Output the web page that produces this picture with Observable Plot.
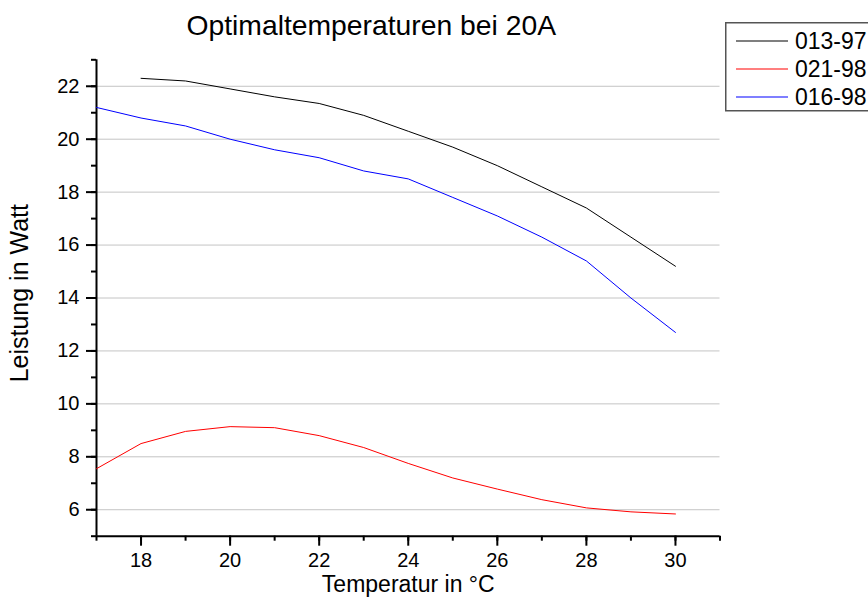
<!DOCTYPE html>
<html>
<head>
<meta charset="utf-8">
<script src="https://cdn.jsdelivr.net/npm/d3@7"></script>
<script src="https://cdn.jsdelivr.net/npm/@observablehq/plot@0.6"></script>
<style>
  html, body { margin: 0; padding: 0; background: #fff; }
  #chart { position: relative; width: 868px; height: 607px; overflow: hidden;
           font-family: "Liberation Sans", Arial, sans-serif; }
  #legend { position: absolute; left: 725px; top: 22px; }
</style>
</head>
<body>
<div id="chart"></div>
<script>
// Optimal temperatures at 20 A: power output (W) versus temperature (°C)
const title = "Optimaltemperaturen bei 20A";
const xLabel = "Temperatur in °C";
const yLabel = "Leistung in Watt";

const seriesNames = ["013-97", "021-98", "016-98"];
const seriesColors = ["#000000", "#ff0000", "#0000ff"];

const temps013 = [18, 19, 20, 21, 22, 23, 24, 25, 26, 27, 28, 29, 30];
const power013 = [22.3, 22.2, 21.9, 21.6, 21.35, 20.9, 20.3, 19.7, 19.0, 18.2, 17.4, 16.3, 15.2];

const temps021 = [17, 18, 19, 20, 21, 22, 23, 24, 25, 26, 27, 28, 29, 30];
const power021 = [7.55, 8.5, 8.96, 9.14, 9.1, 8.8, 8.35, 7.75, 7.2, 6.78, 6.38, 6.07, 5.92, 5.84];

const temps016 = [17, 18, 19, 20, 21, 22, 23, 24, 25, 26, 27, 28, 29, 30];
const power016 = [21.2, 20.8, 20.5, 20.0, 19.6, 19.3, 18.8, 18.5, 17.8, 17.1, 16.3, 15.4, 14.0, 12.7];

const xMajorTicks = [18, 20, 22, 24, 26, 28, 30];
const xMinorTicks = d3.range(17, 32);
const yMajorTicks = [6, 8, 10, 12, 14, 16, 18, 20, 22];
const yMinorTicks = d3.range(5, 24);

const series = [
  {name: seriesNames[0], color: seriesColors[0], pts: temps013.map((t, i) => ({t, p: power013[i]}))},
  {name: seriesNames[1], color: seriesColors[1], pts: temps021.map((t, i) => ({t, p: power021[i]}))},
  {name: seriesNames[2], color: seriesColors[2], pts: temps016.map((t, i) => ({t, p: power016[i]}))}
];

const font = "Liberation Sans, Arial, sans-serif";
const blank = () => "";

const plot = Plot.plot({
  width: 868,
  height: 607,
  marginLeft: 96,
  marginRight: 148.5,
  marginTop: 59.3,
  marginBottom: 71.3,
  style: {fontFamily: font, color: "#000", background: "#fff"},
  x: {domain: [17, 31]},
  y: {domain: [5, 23]},
  marks: [
    Plot.gridY(yMajorTicks, {stroke: "#c4c4c4", strokeOpacity: 1, strokeWidth: 1}),
    Plot.axisX(xMinorTicks, {tickSize: 5, tickFormat: blank, strokeWidth: 2, label: null}),
    Plot.axisX(xMajorTicks, {tickSize: 10, tickPadding: 7, fontSize: 20, strokeWidth: 2, label: null}),
    Plot.axisY(yMinorTicks, {tickSize: 5, tickFormat: blank, strokeWidth: 2, label: null}),
    Plot.axisY(yMajorTicks, {tickSize: 10, tickPadding: 7, fontSize: 20, strokeWidth: 2, label: null}),
    Plot.ruleX([17], {strokeWidth: 2}),
    Plot.ruleY([5], {strokeWidth: 2}),
    ...series.map(s => Plot.line(s.pts, {x: "t", y: "p", stroke: s.color, strokeWidth: 1})),
    Plot.text([title], {frameAnchor: "top", dx: -37, dy: -44.8, fontSize: 28.3, fill: "#000"}),
    Plot.text([xLabel], {frameAnchor: "bottom", dy: 56.2, fontSize: 23, fill: "#000"}),
    Plot.text([yLabel], {frameAnchor: "left", textAnchor: "middle", rotate: -90, dx: -76.7, dy: -4.8, fontSize: 25, fill: "#000"})
  ]
});

const chart = document.getElementById("chart");
chart.appendChild(plot);

// Series key in the upper right corner
const legend = d3.create("svg")
  .attr("id", "legend")
  .attr("width", 150)
  .attr("height", 92);
legend.append("rect")
  .attr("x", 0.75).attr("y", 0.75)
  .attr("width", 170).attr("height", 88)
  .attr("fill", "#fff")
  .attr("stroke", "#555")
  .attr("stroke-width", 1.5);
series.forEach((s, i) => {
  const cy = 19 + i * 28;
  legend.append("line")
    .attr("x1", 11).attr("x2", 63)
    .attr("y1", cy).attr("y2", cy)
    .attr("stroke", s.color)
    .attr("stroke-width", 1.2);
  legend.append("text")
    .attr("x", 70).attr("y", cy)
    .attr("dy", "0.35em")
    .attr("font-family", font)
    .attr("font-size", 23)
    .attr("fill", "#000")
    .text(s.name);
});
chart.appendChild(legend.node());
</script>
</body>
</html>
